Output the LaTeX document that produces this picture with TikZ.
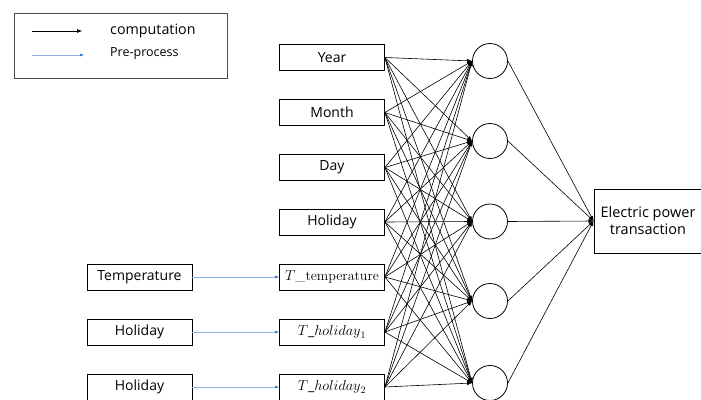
\documentclass[tikz,border=0pt]{standalone}
\usepackage{fontspec}
\setsansfont{Open Sans}
\usetikzlibrary{arrows.meta}
\definecolor{preblue}{RGB}{50,115,210}
\begin{document}
\begin{tikzpicture}[x=1pt,y=-1pt,font=\sffamily,
  box/.style={draw,line width=0.8pt,minimum width=105pt,minimum height=26pt,inner sep=0pt,font=\sffamily\fontsize{14}{16}\selectfont},
  neuron/.style={draw,line width=0.8pt,circle,minimum size=35pt,inner sep=0pt},
  comp/.style={line width=0.6pt,-{Latex[length=5pt,width=4pt]}},
  pre/.style={draw=preblue!55,line width=0.6pt,-{Latex[length=4pt,width=3pt,color=preblue,fill=preblue]}}]
\clip (0,0) rectangle (701,399);
\useasboundingbox (0,0) rectangle (701,399);
% legend
\node[draw=black!70,line width=0.8pt,minimum width=213pt,minimum height=65pt,inner sep=0pt] (leg) at (120.5,45.5) {};
\coordinate (la1) at (32,31); \coordinate (lb1) at (82,31);
\coordinate (la2) at (32,55); \coordinate (lb2) at (84,55);
\draw[comp] (la1) -- (lb1);
\draw[pre] (la2) -- (lb2);
\node[anchor=west,inner sep=0pt,font=\sffamily\fontsize{14.3}{16}\selectfont] (lt1) at (110,31) {computation};
\node[anchor=west,inner sep=0pt,font=\sffamily\fontsize{12.5}{14}\selectfont] (lt2) at (110,54) {Pre-process};
% inputs
\node[box] (i1) at (332,57.5) {Year};
\node[box] (i2) at (332,112.5) {Month};
\node[box] (i3) at (332,167.5) {Day};
\node[box] (i4) at (332,222) {Holiday};
\node[box] (i5) at (332,277) {\rmfamily$T$\_temperature};
\node[box] (i6) at (332,332) {$T\_\mathnormal{holiday}_1$};
\node[box] (i7) at (332,387) {$T\_\mathnormal{holiday}_2$};
% left boxes
\node[box] (p1) at (139.5,277) {Temperature};
\node[box] (p2) at (139.5,332) {Holiday};
\node[box] (p3) at (139.5,387) {Holiday};
\draw[pre] (p1) -- (i5);
\draw[pre] (p2) -- (i6);
\draw[pre] (p3) -- (i7);
% hidden
\foreach \k/\y in {1/61,2/141,3/221.5,4/301,5/383}{
  \node[neuron] (h\k) at (490,\y) {};
}
\foreach \i in {1,...,7}{
  \foreach \k in {1,...,5}{
    \draw[comp] (i\i.east) -- (h\k.west);
  }
}
% output
\node[draw,line width=0.8pt,minimum width=108pt,minimum height=64pt,inner sep=0pt,align=center,font=\sffamily\fontsize{14.5}{17}\selectfont] (out) at (648,221) {Electric power\\transaction};
\foreach \k in {1,...,5}{
  \draw[comp] (h\k.east) -- (out.west);
}
\end{tikzpicture}
\end{document}
